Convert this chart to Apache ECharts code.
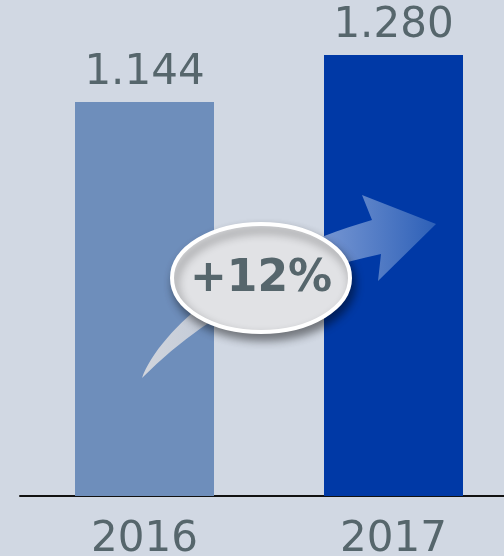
<!DOCTYPE html>
<html>
<head>
<meta charset="utf-8">
<script src="https://cdn.jsdelivr.net/npm/echarts@6/dist/echarts.min.js"></script>
<style>
html,body{margin:0;padding:0;background:#d1d8e3;}
#c{width:504px;height:556px;}
</style>
</head>
<body>
<div id="c"></div>
<script>
const categories = ['2016', '2017'];
const values = [1.144, 1.280];
const valueLabels = ['1.144', '1.280'];
const growthLabel = '+12%';
const barColors = ['#6e8ebb', '#0039a6'];

function ellipsePath(cx, cy, rx, ry) {
  const k = 0.5523;
  const ox = rx * k, oy = ry * k;
  return `M${cx - rx} ${cy} C${cx - rx} ${cy - oy} ${cx - ox} ${cy - ry} ${cx} ${cy - ry} ` +
    `C${cx + ox} ${cy - ry} ${cx + rx} ${cy - oy} ${cx + rx} ${cy} ` +
    `C${cx + rx} ${cy + oy} ${cx + ox} ${cy + ry} ${cx} ${cy + ry} ` +
    `C${cx - ox} ${cy + ry} ${cx - rx} ${cy + oy} ${cx - rx} ${cy} Z`;
}

const arrowPath = 'M142 378 C160 330 240 258 372 220 L362 195 L436 224 L378 281 L381 254 C300 272 220 300 142 378 Z';

const chart = echarts.init(document.getElementById('c'));
chart.setOption({
  backgroundColor: '#d1d8e3',
  animation: false,
  grid: { left: 20, top: 0, width: 498, height: 496, containLabel: false, outerBoundsMode: 'none' },
  xAxis: {
    type: 'category',
    data: categories,
    axisLine: { lineStyle: { color: '#111', width: 2 } },
    axisTick: { show: false },
    axisLabel: { color: '#56666c', fontFamily: 'DejaVu Sans', fontSize: 42, margin: 23 }
  },
  yAxis: { type: 'value', min: 0, max: 1.44, show: false, splitLine: { show: false } },
  series: [{
    type: 'bar',
    barWidth: 139,
    data: values.map((v, i) => ({ value: v, itemStyle: { color: barColors[i] } })),
    label: {
      show: true, position: 'top', distance: 8,
      formatter: p => valueLabels[p.dataIndex],
      color: '#56666c', fontFamily: 'DejaVu Sans', fontSize: 42
    },
    z: 2
  }, {
    type: 'custom',
    coordinateSystem: 'none',
    silent: true,
    z: 10,
    data: [0],
    renderItem: function () {
      return {
        type: 'group',
        children: [
          {
            type: 'path', z2: 1,
            shape: { pathData: arrowPath },
            style: {
              fill: {
                type: 'linear', x: 0, y: 0, x2: 1, y2: 0,
                colorStops: [
                  { offset: 0, color: 'rgba(215,217,222,0.95)' },
                  { offset: 0.45, color: 'rgba(200,206,218,0.8)' },
                  { offset: 0.65, color: 'rgba(130,160,215,0.85)' },
                  { offset: 1, color: 'rgba(50,100,185,0.9)' }
                ]
              }
            }
          },
          {
            type: 'path', z2: 2,
            shape: { pathData: ellipsePath(261, 278, 89, 54) },
            style: {
              fill: '#e1e2e5', stroke: '#ffffff', lineWidth: 4,
              shadowBlur: 10, shadowColor: 'rgba(0,0,0,0.45)', shadowOffsetX: 3, shadowOffsetY: 6
            }
          },
          {
            type: 'text', z2: 3,
            x: 261, y: 280,
            style: {
              text: growthLabel, fill: '#56666c', font: 'bold 44px "DejaVu Sans"',
              align: 'center', verticalAlign: 'middle'
            }
          }
        ]
      };
    }
  }]
});
</script>
</body>
</html>
